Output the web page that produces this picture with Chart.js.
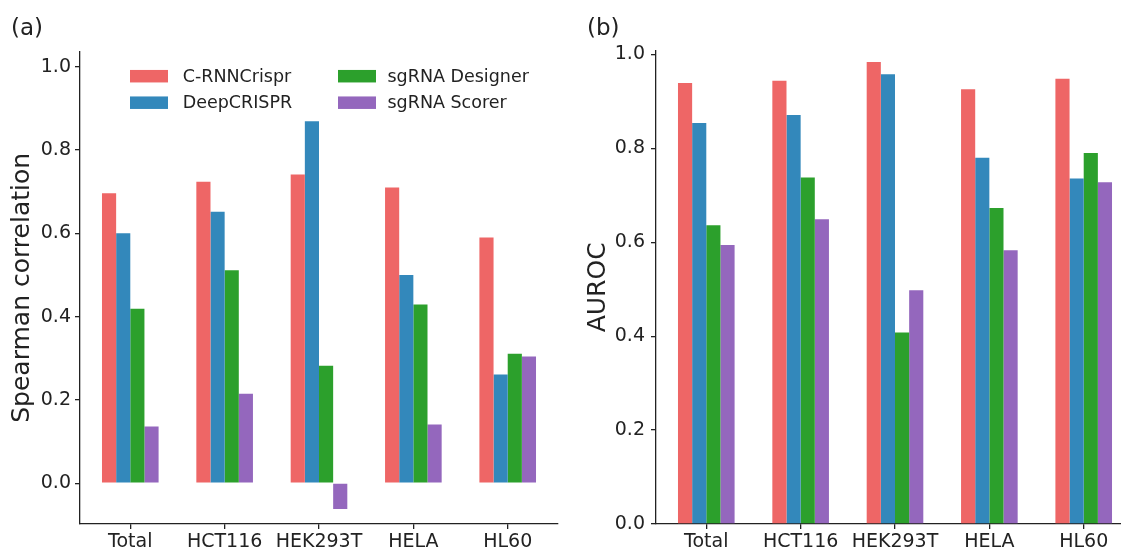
<!DOCTYPE html>
<html>
<head>
<meta charset="utf-8">
<script src="https://cdn.jsdelivr.net/npm/chart.js@4.4.1/dist/chart.umd.min.js"></script>
<style>
  html, body { margin: 0; padding: 0; background: #fff; overflow: hidden; width: 1121px; height: 551px; }
  canvas { position: absolute; top: 0; }
</style>
</head>
<body>
<canvas id="chartA" width="560" height="551" style="left:0px"></canvas>
<canvas id="chartB" width="560" height="551" style="left:576px"></canvas>
<script>
// categories and series
const categories = ["Total", "HCT116", "HEK293T", "HELA", "HL60"];
const seriesNames = ["C-RNNCrispr", "DeepCRISPR", "sgRNA Designer", "sgRNA Scorer"];
const seriesColors = ["#ee6666", "#3388bb", "#2ca02c", "#9467bd"];

// (a) Spearman correlation
const spearmanCRNN = [0.696, 0.724, 0.741, 0.710, 0.590];
const spearmanDeep = [0.600, 0.652, 0.869, 0.500, 0.261];
const spearmanDesigner = [0.419, 0.511, 0.282, 0.429, 0.311];
const spearmanScorer = [0.136, 0.215, -0.062, 0.141, 0.304];

// (b) AUROC
const aurocCRNN = [0.939, 0.944, 0.984, 0.926, 0.948];
const aurocDeep = [0.854, 0.871, 0.958, 0.780, 0.736];
const aurocDesigner = [0.636, 0.738, 0.408, 0.673, 0.790];
const aurocScorer = [0.594, 0.649, 0.498, 0.583, 0.728];

const yTicks = [0.0, 0.2, 0.4, 0.6, 0.8, 1.0];

const FONT = "'DejaVu Sans', sans-serif";
const INK = "#222";

function decor(label, withLegend) {
  return {
    id: "decor",
    afterDraw(chart) {
      const ctx = chart.ctx;
      ctx.save();
      ctx.fillStyle = INK;
      ctx.textBaseline = "alphabetic";
      ctx.textAlign = "left";
      ctx.font = "23px " + FONT;
      ctx.fillText(label, 11, 35);
      if (withLegend) {
        // two columns, like the matplotlib legend (ncol=2)
        const swatchX = [130, 338];
        const textX = [182.7, 387.5];
        const rows = [76.2, 102.7];
        ctx.font = "17.5px " + FONT;
        ctx.textBaseline = "middle";
        chart.data.datasets.forEach((ds, i) => {
          const col = Math.floor(i / 2);
          const y = rows[i % 2];
          ctx.fillStyle = ds.backgroundColor;
          ctx.fillRect(swatchX[col], y - 6.25, 38, 12.5);
          ctx.fillStyle = INK;
          ctx.fillText(ds.label, textX[col], y + 1);
        });
      }
      ctx.restore();
    }
  };
}

function makeChart(id, values, yTitle, yMin, yMax, topPad, tickPad, label, withLegend) {
  const datasets = values.map((vals, i) => ({
    label: seriesNames[i],
    data: vals.map((v, j) => ({ x: j, y: v })),
    backgroundColor: seriesColors[i],
    borderWidth: 0,
    categoryPercentage: 0.6,
    barPercentage: 1.0
  }));

  return new Chart(document.getElementById(id), {
    type: "bar",
    data: { datasets },
    options: {
      responsive: false,
      animation: false,
      layout: { padding: { left: 0, top: topPad, right: 2, bottom: 0 } },
      plugins: { legend: { display: false }, tooltip: { enabled: false } },
      scales: {
        x: {
          type: "linear",
          min: -0.533,
          max: 4.533,
          offset: false,
          afterBuildTicks: (s) => { s.ticks = categories.map((c, i) => ({ value: i })); },
          afterFit: (s) => { s.height = 27; },
          ticks: {
            callback: (v) => categories[v],
            color: INK,
            font: { family: FONT, size: 19 },
            padding: 2,
            maxRotation: 0,
            autoSkip: false
          },
          grid: { offset: false, drawOnChartArea: false, tickLength: 5, color: INK, lineWidth: 1.3 },
          border: { color: INK, width: 1.3 }
        },
        y: {
          min: yMin,
          max: yMax,
          afterBuildTicks: (s) => { s.ticks = yTicks.map((v) => ({ value: v })); },
          afterFit: (s) => { s.width = 80; },
          ticks: {
            callback: (v) => v.toFixed(1),
            color: INK,
            font: { family: FONT, size: 19 },
            padding: tickPad
          },
          grid: { offset: false, drawOnChartArea: false, tickLength: 5, color: INK, lineWidth: 1.3 },
          border: { color: INK, width: 1.3 },
          title: {
            display: true,
            text: yTitle,
            color: INK,
            font: { family: FONT, size: 25, lineHeight: 1.2 },
            padding: { top: 7, bottom: 0 }
          }
        }
      }
    },
    plugins: [decor(label, withLegend)]
  });
}

makeChart("chartA",
  [spearmanCRNN, spearmanDeep, spearmanDesigner, spearmanScorer],
  "Spearman correlation", -0.098, 1.036, 51.7, 4, "(a)", true);

makeChart("chartB",
  [aurocCRNN, aurocDeep, aurocDesigner, aurocScorer],
  "AUROC", 0, 1.008, 50.7, 6, "(b)", false);
</script>
</body>
</html>
